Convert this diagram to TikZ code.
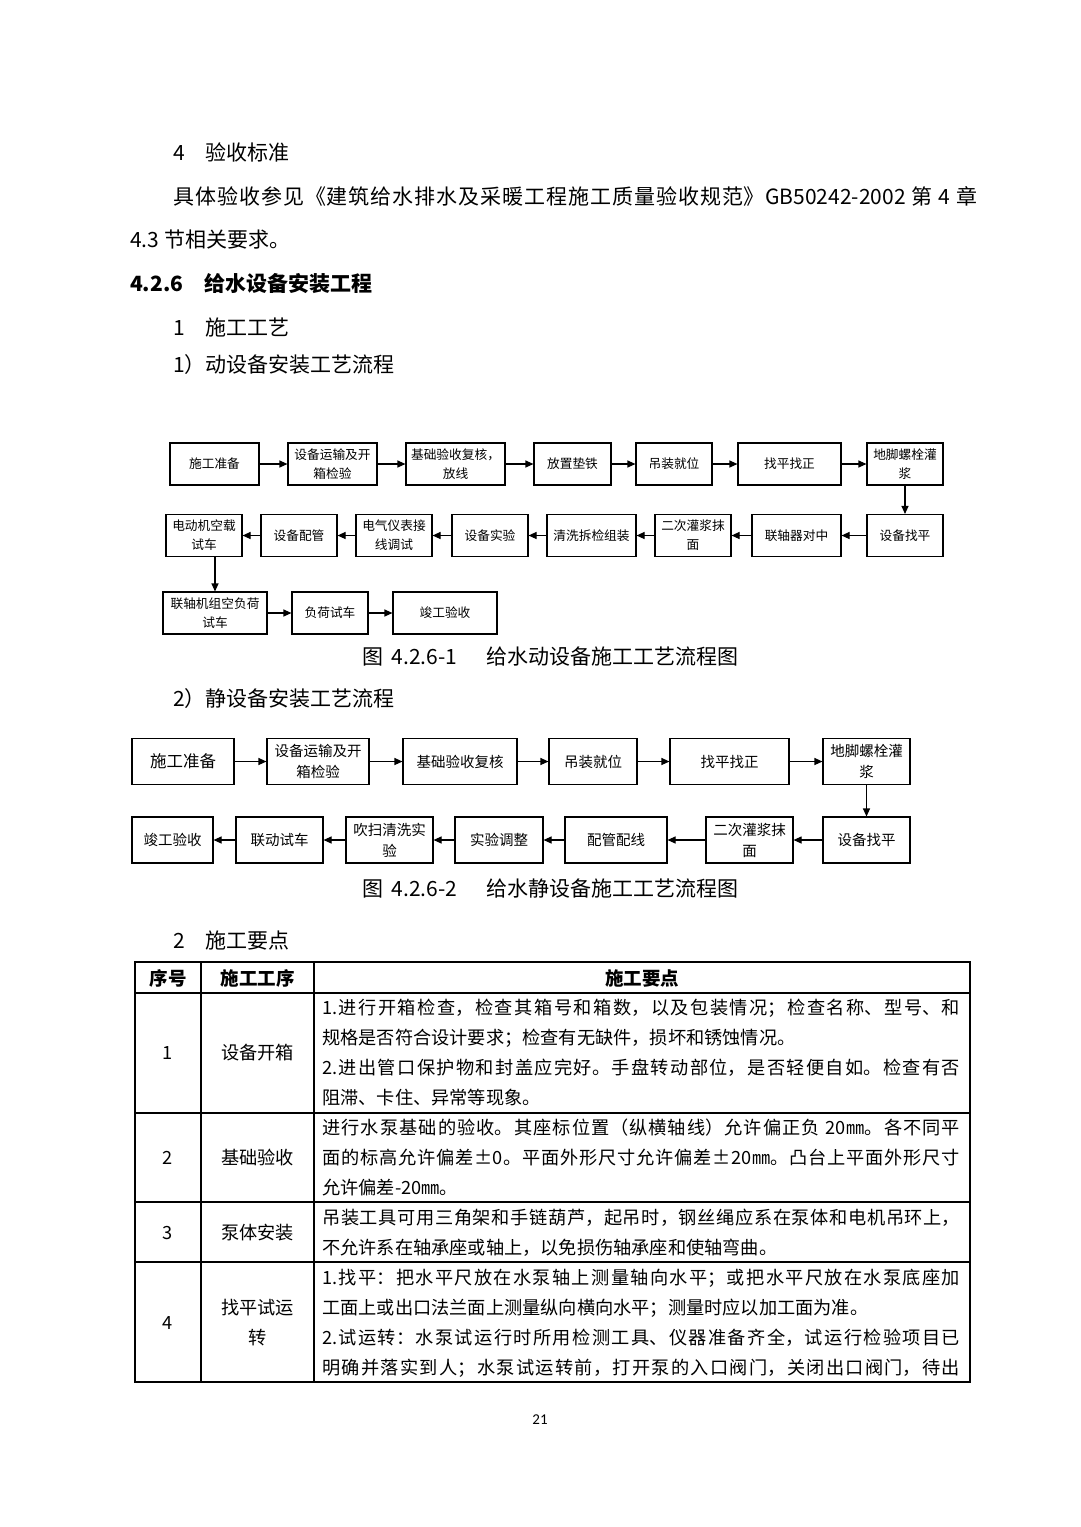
\documentclass[tikz,border=0pt]{standalone}
\usepackage{fontspec}
\setmainfont{Noto Sans CJK SC}
\newfontfamily\pagefont{Carlito}
\usetikzlibrary{arrows.meta}
\XeTeXlinebreaklocale "zh"
\XeTeXlinebreakskip=0pt plus 2pt

\begin{document}
\begin{tikzpicture}[x=1pt,y=-1pt,
  body/.style={inner sep=0pt,anchor=west,font=\fontsize{21}{30}\selectfont},
  flowA/.style={draw,line width=1.1pt,inner sep=0pt,align=center,minimum height=42pt,font=\fontsize{12.7}{19}\selectfont},
  flowB/.style={draw,line width=1.1pt,inner sep=0pt,align=center,minimum height=46pt,font=\fontsize{14.5}{21}\selectfont},
  arr/.style={-{Triangle[length=8pt,width=7pt]},line width=1.1pt},
  cell/.style={inner sep=0pt,align=center,font=\fontsize{18.2}{30}\selectfont},
  para/.style={inner sep=0pt,anchor=north west,text width=638pt,align=justify,font=\fontsize{18.2}{30}\selectfont},
  thick rule/.style={line width=2.5pt},
  thin rule/.style={line width=1.2pt}]

\fill[white] (0,0) rectangle (1080,1527);
\useasboundingbox (0,0) rectangle (1080,1527);

% running text
\node[body] (t1) at (173,152) {4\hspace{1em}验收标准};
\node[body,text width=804pt,align=justify] (t2) at (173,196)
  {\noindent\parfillskip=0pt 具体验收参见《建筑给水排水及采暖工程施工质量验收规范》GB50242-2002 第 4 章\par};
\node[body] (t3) at (130,240) {4.3 节相关要求。};
\node[body,font=\fontsize{21}{30}\selectfont\bfseries] (t4) at (130,284) {4.2.6\hspace{1em}给水设备安装工程};
\node[body] (t5) at (173,328) {1\hspace{1em}施工工艺};
\node[body] (t6) at (173,365) {1）动设备安装工艺流程};

% flow chart 1
\node[flowA,minimum width=89pt]  (a1) at (214.5,464) {施工准备};
\node[flowA,minimum width=89pt]  (a2) at (332.5,464) {设备运输及开\\箱检验};
\node[flowA,minimum width=99pt]  (a3) at (455.5,464) {基础验收复核，\\放线};
\node[flowA,minimum width=77pt]  (a4) at (572.5,464) {放置垫铁};
\node[flowA,minimum width=76pt]  (a5) at (674,464)   {吊装就位};
\node[flowA,minimum width=103pt] (a6) at (789.5,464) {找平找正};
\node[flowA,minimum width=76pt]  (a7) at (905,464)   {地脚螺栓灌\\浆};

\node[flowA,minimum width=76pt]  (b1) at (905,535.5)   {设备找平};
\node[flowA,minimum width=89pt]  (b2) at (796.5,535.5) {联轴器对中};
\node[flowA,minimum width=76pt]  (b3) at (693,535.5)   {二次灌浆抹\\面};
\node[flowA,minimum width=89pt]  (b4) at (591.5,535.5) {清洗拆检组装};
\node[flowA,minimum width=76pt]  (b5) at (490,535.5)   {设备实验};
\node[flowA,minimum width=76pt]  (b6) at (394,535.5)   {电气仪表接\\线调试};
\node[flowA,minimum width=76pt]  (b7) at (299,535.5)   {设备配管};
\node[flowA,minimum width=76pt]  (b8) at (204,535.5)   {电动机空载\\试车};

\node[flowA,minimum width=104pt] (c1) at (215,613) {联轴机组空负荷\\试车};
\node[flowA,minimum width=76pt]  (c2) at (330,613) {负荷试车};
\node[flowA,minimum width=104pt] (c3) at (445,613) {竣工验收};

\draw[arr] (a1) -- (a2);
\draw[arr] (a2) -- (a3);
\draw[arr] (a3) -- (a4);
\draw[arr] (a4) -- (a5);
\draw[arr] (a5) -- (a6);
\draw[arr] (a6) -- (a7);
\draw[arr] (a7) -- (b1);
\draw[arr] (b1) -- (b2);
\draw[arr] (b2) -- (b3);
\draw[arr] (b3) -- (b4);
\draw[arr] (b4) -- (b5);
\draw[arr] (b5) -- (b6);
\draw[arr] (b6) -- (b7);
\draw[arr] (b7) -- (b8);
\draw[arr] (b8.south -| c1.north) -- (c1.north);
\draw[arr] (c1) -- (c2);
\draw[arr] (c2) -- (c3);

\node[body] (cap1) at (362,657) {图\hspace{0.4em}4.2.6-1\hspace{1.4em}给水动设备施工工艺流程图};
\node[body] (t7) at (173,699) {2）静设备安装工艺流程};

% flow chart 2
\node[flowB,minimum width=102pt,font=\fontsize{16.5}{21}\selectfont] (p1) at (183,761.5) {施工准备};
\node[flowB,minimum width=102pt] (p2) at (318,761.5)   {设备运输及开\\箱检验};
\node[flowB,minimum width=114pt] (p3) at (460,761.5)   {基础验收复核};
\node[flowB,minimum width=88pt]  (p4) at (593,761.5)   {吊装就位};
\node[flowB,minimum width=119pt] (p5) at (729.5,761.5) {找平找正};
\node[flowB,minimum width=87pt]  (p6) at (866.5,761.5) {地脚螺栓灌\\浆};

\node[flowB,minimum width=87pt]  (q1) at (866.5,840) {设备找平};
\node[flowB,minimum width=87pt]  (q2) at (749.5,840) {二次灌浆抹\\面};
\node[flowB,minimum width=102pt] (q3) at (616,840)   {配管配线};
\node[flowB,minimum width=88pt]  (q4) at (499,840)   {实验调整};
\node[flowB,minimum width=87pt]  (q5) at (389.5,840) {吹扫清洗实\\验};
\node[flowB,minimum width=87pt]  (q6) at (279.5,840) {联动试车};
\node[flowB,minimum width=81pt]  (q7) at (172.5,840) {竣工验收};

\draw[arr] (p1) -- (p2);
\draw[arr] (p2) -- (p3);
\draw[arr] (p3) -- (p4);
\draw[arr] (p4) -- (p5);
\draw[arr] (p5) -- (p6);
\draw[arr] (p6) -- (q1);
\draw[arr] (q1) -- (q2);
\draw[arr] (q2) -- (q3);
\draw[arr] (q3) -- (q4);
\draw[arr] (q4) -- (q5);
\draw[arr] (q5) -- (q6);
\draw[arr] (q6) -- (q7);

\node[body] (cap2) at (362,889) {图\hspace{0.4em}4.2.6-2\hspace{1.4em}给水静设备施工工艺流程图};
\node[body] (t8) at (173,940) {2\hspace{1em}施工要点};

% table
\draw[thin rule] (135,993) -- (970,993) (135,1113) -- (970,1113)
  (135,1202) -- (970,1202) (135,1262) -- (970,1262)
  (201,962) -- (201,1382) (314,962) -- (314,1382);
\draw[thick rule] (135,962) rectangle (970,1382);

\node[cell,font=\fontsize{18.5}{30}\selectfont\bfseries] (h1) at (168,978)   {序号};
\node[cell,font=\fontsize{18.5}{30}\selectfont\bfseries] (h2) at (257.5,978) {施工工序};
\node[cell,font=\fontsize{18.5}{30}\selectfont\bfseries] (h3) at (642,978)   {施工要点};

\node[cell] (n1) at (168,1053)   {1};
\node[cell] (s1) at (257.5,1053) {设备开箱};
\node[cell] (n2) at (168,1158)   {2};
\node[cell] (s2) at (257.5,1158) {基础验收};
\node[cell] (n3) at (168,1233)   {3};
\node[cell] (s3) at (257.5,1233) {泵体安装};
\node[cell] (n4) at (168,1323)   {4};
\node[cell] (s4) at (257.5,1323) {找平试运\\转};

\node[para] (r1) at (322,999) {\noindent 1.进行开箱检查，检查其箱号和箱数，以及包装情况；检查名称、型号、和\linebreak
规格是否符合设计要求；检查有无缺件，损坏和锈蚀情况。\\
2.进出管口保护物和封盖应完好。手盘转动部位，是否轻便自如。检查有否\linebreak
阻滞、卡住、异常等现象。};
\node[para] (r2) at (322,1119) {\noindent 进行水泵基础的验收。其座标位置（纵横轴线）允许偏正负 20㎜。各不同平\linebreak
面的标高允许偏差±0。平面外形尺寸允许偏差±20㎜。凸台上平面外形尺寸\linebreak
允许偏差-20㎜。};
\node[para] (r3) at (322,1209) {\noindent 吊装工具可用三角架和手链葫芦，起吊时，钢丝绳应系在泵体和电机吊环上，\linebreak
不允许系在轴承座或轴上，以免损伤轴承座和使轴弯曲。};
\node[para] (r4) at (322,1269) {\noindent\parfillskip=0pt 1.找平：把水平尺放在水泵轴上测量轴向水平；或把水平尺放在水泵底座加\linebreak
工面上或出口法兰面上测量纵向横向水平；测量时应以加工面为准。\\
2.试运转：水泵试运行时所用检测工具、仪器准备齐全，试运行检验项目已\linebreak
明确并落实到人；水泵试运转前，打开泵的入口阀门，关闭出口阀门，待出\par};

\node[font=\pagefont\fontsize{15}{18}\selectfont] (pg) at (540,1420) {21};

\end{tikzpicture}
\end{document}
